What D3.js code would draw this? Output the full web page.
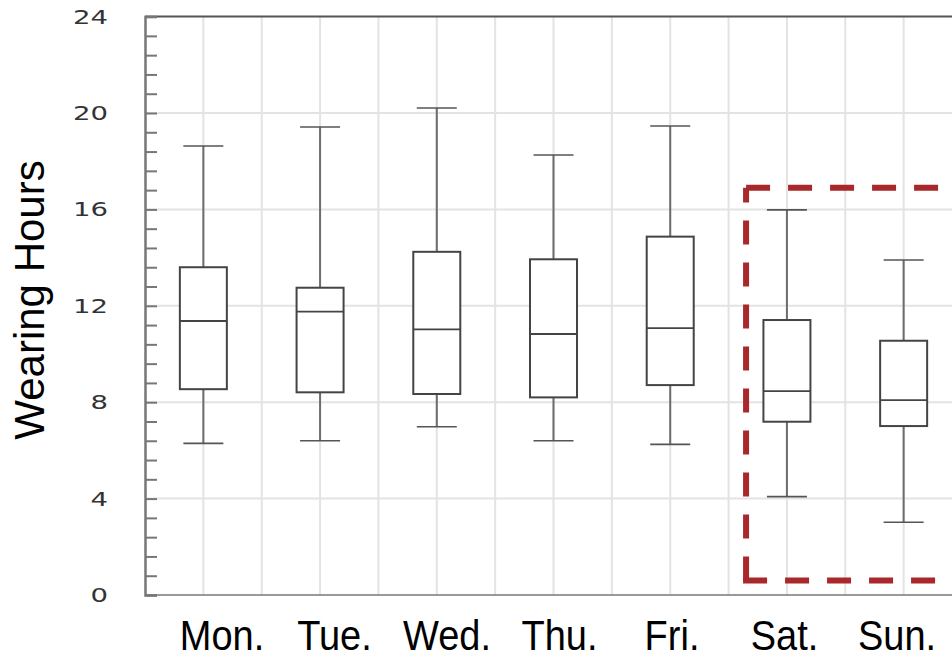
<!DOCTYPE html>
<html>
<head>
<meta charset="utf-8">
<script src="https://cdn.jsdelivr.net/npm/d3@7"></script>
<style>
  body { margin: 0; background: #fff; }
  svg { display: block; }
</style>
</head>
<body>
<svg id="chart" width="952" height="659"></svg>
<script>
const days = ['Mon.', 'Tue.', 'Wed.', 'Thu.', 'Fri.', 'Sat.', 'Sun.'];
const whisker_low = [6.29, 6.40, 6.98, 6.40, 6.25, 4.08, 3.02];
const q1 = [8.54, 8.41, 8.34, 8.20, 8.71, 7.19, 7.01];
const median = [11.37, 11.76, 11.02, 10.83, 11.07, 8.46, 8.09];
const q3 = [13.60, 12.75, 14.24, 13.93, 14.87, 11.41, 10.55];
const whisker_high = [18.63, 19.42, 20.21, 18.26, 19.46, 15.98, 13.90];
const y_ticks = [0, 4, 8, 12, 16, 20, 24];
const weekend = ['Sat.', 'Sun.'];
const weekend_range = [0.6, 16.9]; // hours covered by the dashed frame

const boxes = days.map((d, i) => ({
  day: d, low: whisker_low[i], q1: q1[i], med: median[i], q3: q3[i], high: whisker_high[i]
}));

const svg = d3.select('#chart');
const x = d3.scaleBand().domain(days).range([145, 962]);
const y = d3.scaleLinear().domain([0, 24]).range([595, 16.6]);
const bw = x.bandwidth();
const cx = d => x(d) + bw / 2;

// grid
const grid = svg.append('g').attr('stroke', '#e3e3e3').attr('stroke-width', 2);
grid.selectAll('.vg')
  .data(days.flatMap(d => [x(d), cx(d)]).filter(v => v > 146))
  .enter().append('line')
  .attr('x1', d => d).attr('x2', d => d)
  .attr('y1', y(24)).attr('y2', y(0));
grid.selectAll('.hg')
  .data(y_ticks.filter(t => t > 0 && t < 24))
  .enter().append('line')
  .attr('x1', 145).attr('x2', 962)
  .attr('y1', d => y(d)).attr('y2', d => y(d));

// frame
svg.append('line').attr('x1', 145).attr('x2', 962).attr('y1', y(24)).attr('y2', y(24))
  .attr('stroke', '#555').attr('stroke-width', 2);
svg.append('line').attr('x1', 145).attr('x2', 962).attr('y1', y(0)).attr('y2', y(0))
  .attr('stroke', '#777').attr('stroke-width', 1.5);

// y axis with minor ticks
const y_axis = d3.axisLeft(y)
  .tickValues(d3.range(0, 24.01, 0.8))
  .tickSize(-12)
  .tickFormat('');
const ya = svg.append('g').attr('transform', 'translate(145,0)').call(y_axis);
ya.select('.domain').attr('stroke', '#777').attr('stroke-width', 2.5);
ya.selectAll('.tick line').attr('stroke', '#777').attr('stroke-width', 2);

svg.selectAll('.ylab')
  .data(y_ticks)
  .enter().append('text')
  .attr('transform', d => `translate(108,${y(d) + 7}) scale(1.45,1)`)
  .attr('text-anchor', 'end')
  .attr('font-family', 'DejaVu Sans')
  .attr('font-size', 19)
  .attr('fill', '#333')
  .text(d => d);

// boxes
const g = svg.selectAll('.box').data(boxes).enter().append('g').attr('class', 'box');
g.append('line')
  .attr('x1', d => cx(d.day)).attr('x2', d => cx(d.day))
  .attr('y1', d => y(d.high)).attr('y2', d => y(d.low))
  .attr('stroke', '#6d6d6d').attr('stroke-width', 2);
g.selectAll('.cap')
  .data(d => [d.low, d.high].map(v => ({ day: d.day, v })))
  .enter().append('line')
  .attr('x1', d => cx(d.day) - 20).attr('x2', d => cx(d.day) + 20)
  .attr('y1', d => y(d.v)).attr('y2', d => y(d.v))
  .attr('stroke', '#555').attr('stroke-width', 1.6);
g.append('rect')
  .attr('x', d => cx(d.day) - 23.5).attr('width', 47)
  .attr('y', d => y(d.q3)).attr('height', d => y(d.q1) - y(d.q3))
  .attr('fill', '#fff').attr('stroke', '#444').attr('stroke-width', 2);
g.append('line')
  .attr('x1', d => cx(d.day) - 23.5).attr('x2', d => cx(d.day) + 23.5)
  .attr('y1', d => y(d.med)).attr('y2', d => y(d.med))
  .attr('stroke', '#444').attr('stroke-width', 1.8);

// dashed weekend frame
const fx = x(weekend[0]) + 17.5;
const fy0 = y(weekend_range[1]), fy1 = y(weekend_range[0]);
const red = svg.append('g').attr('stroke', '#a8282c').attr('stroke-width', 6)
  .attr('fill', 'none').attr('stroke-dasharray', '24,18');
red.append('path').attr('d', `M${fx},${fy0}H${x(weekend[1]) + bw + 40}`);
red.append('path').attr('d', `M${fx},${fy1}V${fy0}`);
red.append('path').attr('d', `M${fx - 3},${fy1}H${x(weekend[1]) + bw + 40}`);

// labels
const xl = d3.scalePoint().domain(days).range([222, 897]);
svg.selectAll('.xlab')
  .data(days)
  .enter().append('text')
  .attr('transform', d => `translate(${xl(d)},650) scale(1,1.1)`)
  .attr('text-anchor', 'middle')
  .attr('font-family', 'Liberation Sans, Arial, sans-serif')
  .attr('font-size', 38)
  .attr('fill', '#000')
  .text(d => d);

svg.append('text')
  .attr('transform', 'translate(44,300) rotate(-90)')
  .attr('text-anchor', 'middle')
  .attr('font-family', 'Liberation Sans, Arial, sans-serif')
  .attr('font-size', 42)
  .attr('fill', '#000')
  .text('Wearing Hours');
</script>
</body>
</html>
